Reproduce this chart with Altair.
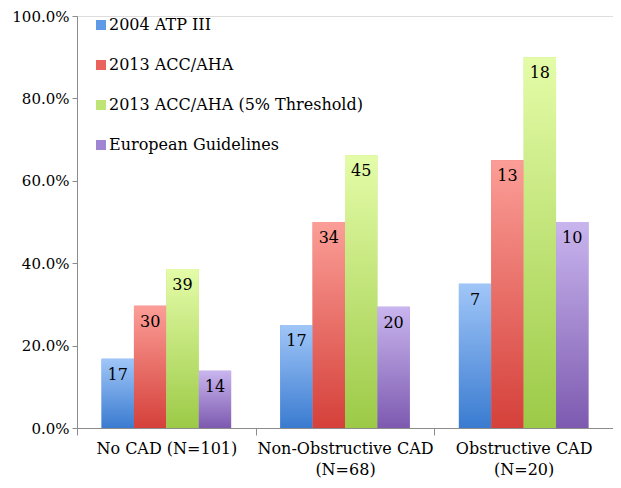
import altair as alt
import pandas as pd

categories = ["No CAD (N=101)", "Non-Obstructive CAD\n(N=68)", "Obstructive CAD\n(N=20)"]
series = ["2004 ATP III", "2013 ACC/AHA", "2013 ACC/AHA (5% Threshold)", "European Guidelines"]
pct = {
    "2004 ATP III": [0.168, 0.25, 0.35],
    "2013 ACC/AHA": [0.297, 0.50, 0.65],
    "2013 ACC/AHA (5% Threshold)": [0.386, 0.662, 0.90],
    "European Guidelines": [0.139, 0.294, 0.50],
}
counts = {
    "2004 ATP III": [17, 17, 7],
    "2013 ACC/AHA": [30, 34, 13],
    "2013 ACC/AHA (5% Threshold)": [39, 45, 18],
    "European Guidelines": [14, 20, 10],
}
top_colors = ["#a0c6f8", "#fb9e97", "#e4fca8", "#c9b5ee"]
bottom_colors = ["#3a7bd0", "#d5403a", "#9cca47", "#7d5ab0"]
mid_colors = ["#5f9ae6", "#e9635c", "#bde474", "#9f85d2"]

rows = []
for s in series:
    for i, c in enumerate(categories):
        rows.append({"cat": c, "series": s, "pct": pct[s][i], "n": counts[s][i]})
df = pd.DataFrame(rows)

FONT = "DejaVu Serif"
W, H = 536, 412

x = alt.X("cat:N", sort=categories, title=None,
          scale=alt.Scale(paddingInner=0, paddingOuter=0),
          axis=alt.Axis(labelExpr="split(datum.label, '\\n')", labelAngle=0,
                        tickBand="extent", tickSize=7, labelPadding=5,
                        labelFontSize=16, labelFont=FONT, labelColor="black",
                        labelLineHeight=21,
                        domainColor="#8c8c8c", tickColor="#8c8c8c"))
xo = alt.XOffset("series:N", sort=series,
                 scale=alt.Scale(paddingInner=0, paddingOuter=0.758))
y = alt.Y("pct:Q", title=None,
          scale=alt.Scale(domain=[0, 1]),
          axis=alt.Axis(format=".1%", values=[0, 0.2, 0.4, 0.6, 0.8, 1.0],
                        grid=False, tickSize=5, labelPadding=3, labelOverlap=False,
                        labelFontSize=15, labelFont=FONT, labelColor="black",
                        domainColor="#8c8c8c", tickColor="#8c8c8c"))

base = alt.Chart(df)

legend_layer = base.mark_bar().encode(
    x=x, xOffset=xo, y=y,
    color=alt.Color("series:N", sort=series,
                    scale=alt.Scale(domain=series, range=mid_colors),
                    legend=alt.Legend(title=None, orient="none", legendX=16, legendY=1,
                                      symbolType="square", symbolSize=100,
                                      symbolStrokeWidth=0,
                                      labelFontSize=16, labelFont=FONT, labelColor="black",
                                      rowPadding=24, labelOffset=0,
                                      labelLimit=400)),
)

layers = [legend_layer]
for s, t, b in zip(series, top_colors, bottom_colors):
    grad = alt.LinearGradient(gradient="linear", x1=0, y1=0, x2=0, y2=1,
                              stops=[alt.GradientStop(color=t, offset=0),
                                     alt.GradientStop(color=b, offset=1)])
    layers.append(
        base.transform_filter(alt.datum.series == s).mark_bar(color=grad).encode(
            x=x, xOffset=xo, y=y)
    )

text = base.mark_text(baseline="middle", dy=16, fontSize=16, font=FONT, color="black").encode(
    x=alt.X("cat:N", sort=categories),
    xOffset=alt.XOffset("series:N", sort=series),
    y="pct:Q",
    text="n:Q",
)
layers.append(text)

chart = alt.layer(*layers).properties(
    width=W, height=H,
    autosize=alt.AutoSizeParams(type="none"),
    padding={"left": 69, "top": 8, "right": 0, "bottom": 52},
).configure_view(stroke=None).configure(background="white")

chart.save("out.html", embed_options={"renderer": "svg", "actions": False})
